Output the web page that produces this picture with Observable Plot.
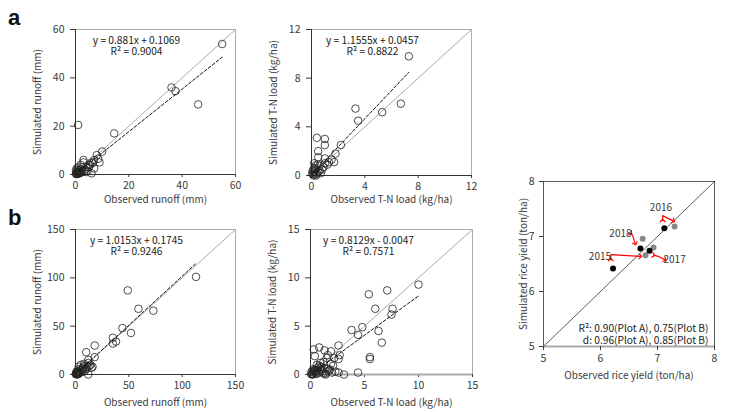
<!DOCTYPE html>
<html><head><meta charset="utf-8">
<script src="https://cdn.jsdelivr.net/npm/d3@7"></script>
<script src="https://cdn.jsdelivr.net/npm/@observablehq/plot@0.6"></script>
<style>
body{margin:0;background:#fff;}
#wrap{position:relative;width:736px;height:412px;overflow:hidden;}
.lab{position:absolute;font-weight:bold;font-size:22px;font-family:"Liberation Sans",Arial,sans-serif;color:#111;line-height:1;}
</style></head><body><div id="wrap"><div class="lab" style="left:8px;top:7px">a</div><div class="lab" style="left:8px;top:207px">b</div></div>
<script>
// ---- Panel a-1: runoff (calibration)
const obsA1 = [55,37.5,36,46,14.5,1,10,8,9,7,7,6,6,5,5,4,4,3.5,3,3,2.5,2,2,1.5,1.5,1,1,1,0.8,0.5,0.5,0.3,0.2,0.2,4.5,8.5,2.5,0.7,1.2,3.2,6.5,2,0.4,1.8,5.5];
const simA1 = [54,34.5,36,29,17,20.5,9.5,8,5,6,2.5,0.5,5,4,3,3,1,2,6,5,3,4,2,1.5,0.5,3,2,1,0.8,1,0.2,0.5,0.2,1.5,1.5,6.5,1.5,0.3,0.4,1.2,4.8,0.8,2.5,1.0,4.0];
// ---- Panel a-2: T-N load (calibration)
const obsA2 = [7.3,6.7,5.3,3.3,3.5,2.2,1.8,1.7,1.0,1.0,0.4,0.5,0.5,1.0,1.0,1.5,0.6,0.3,0.2,0.1,0.3,0.5,0.8,0.2,0.1,0.4,0.7,1.2,0.2,0.3,0.15,0.05,0.6,0.9,0.35,0.25,1.3,0.45];
const simA2 = [9.8,5.9,5.2,5.5,4.5,2.5,1.8,1.1,3.0,2.5,3.1,2.0,1.5,1.4,1.0,1.3,0.8,0.5,0.3,0.1,0.1,0.3,0.5,0.6,0.4,0.2,0.2,0.9,1.0,0.8,0.0,0.2,0.4,0.7,0.0,0.6,1.1,0.9];
// ---- Panel b-1: runoff (validation)
const obsB1 = [113,49,59,73,44,52,35,35,38,18,10,18,12,14,11,8,5,12,3,6,4,2,1,2,3,7,10,9,15,12,1,3,0.5,1.5,2.5,4.5,5.5,6.5,8.5,0.8,1.2,2.2,3.5,0.3,13,16,7.5];
const simB1 = [101,87,68,66,48,43,38,32,34,30,23,18,15,10,8,11,10,0,8,5,4,2,1,0,3,7,6,4,7,12,3,1,0.5,1.5,1,2,3,6,9,0.2,2.5,0.8,5.5,0.8,9,8,3];
// ---- Panel b-2: T-N load (validation)
const obsB2 = [10,7.1,5.4,7.6,7.5,6.0,4.8,3.8,4.4,6.3,6.6,5.5,5.5,2.6,2.7,2.6,2.2,1.9,1.3,0.8,0.3,0.4,1.5,1.6,4.4,3.1,2.6,1.0,0.5,0.2,
  0.1,0.3,0.6,0.9,1.2,1.5,1.8,2.0,0.2,0.4,0.7,1.1,1.4,1.7,0.05,0.5,0.8,1.3,2.3,0.15,0.35,0.55,0.75,1.0,1.9,0.25,0.6,1.2,0.9,0.45,1.6,2.1,1.4];
const simB2 = [9.3,8.7,8.3,6.8,6.2,6.8,4.9,4.6,4.1,4.5,3.3,1.8,1.6,3.0,2.0,1.6,1.7,2.4,2.5,2.8,2.6,1.9,1.7,2.0,0.2,0.0,0.2,0.5,0.3,0.1,
  0.3,0.2,0.4,0.6,0.1,0.3,0.5,0.2,0.0,0.5,0.7,0.3,0.1,0.4,0.05,0.15,0.9,0.6,0.3,0.0,0.35,0.05,0.2,0.8,1.1,0.55,1.0,1.3,1.2,0.45,0.6,0.9,0.0];
// regression equations (slope, intercept, last observed x)
const fitSlope = [0.881, 1.1555, 1.0153, 0.8129];
const fitIntercept = [0.1069, 0.0457, 0.1745, -0.0047];
const fitXMax = [55, 7.3, 113, 10];
const eqTexts = ["y = 0.881x + 0.1069","y = 1.1555x + 0.0457","y = 1.0153x + 0.1745","y = 0.8129x - 0.0047"];
const r2Texts = ["R² = 0.9004","R² = 0.8822","R² = 0.9246","R² = 0.7571"];
const axisMax = [60, 12, 150, 15];
const tickValsA1 = [0,20,40,60], tickValsA2 = [0,4,8,12], tickValsB1 = [0,50,100,150], tickValsB2 = [0,5,10,15];
const xLabels = ["Observed runoff (mm)","Observed T-N load (kg/ha)","Observed runoff (mm)","Observed T-N load (kg/ha)"];
const yLabels = ["Simulated runoff (mm)","Simulated T-N load (kg/ha)","Simulated runoff (mm)","Simulated T-N load (kg/ha)"];
// ---- Panel c: rice yield
const yieldObsA = [6.22, 6.70, 6.86, 7.12];
const yieldSimA = [6.42, 6.78, 6.74, 7.15];
const yieldObsB = [6.79, 6.74, 6.93, 7.30];
const yieldSimB = [6.66, 6.96, 6.80, 7.18];
const yearLabels = ["2015","2016","2017","2018"];
const yearLabelX = [5.99, 7.06, 7.30, 6.35];
const yearLabelY = [6.64, 7.53, 6.58, 7.05];
const arrowYear = ["2015","2015","2015","2016","2016","2016","2017","2017","2017","2018","2018","2018"];
const arrowX = [6.18,6.18,6.70, 7.09,7.09,7.28, 6.93,7.01,7.13, 6.53,6.56,6.61];
const arrowY = [6.58,6.67,6.64, 7.29,7.38,7.28, 6.66,6.64,6.58, 7.06,7.03,6.87];
const statLines = ["R²: 0.90(Plot A), 0.75(Plot B)","d: 0.96(Plot A), 0.85(Plot B)"];
const yieldTicks = [5,6,7,8];

const FONT = '"Noto Sans CJK KR","Noto Sans",sans-serif';
const TXT = "#3a3a3a";
const wrap = document.getElementById("wrap");
function place(el, left, top){ el.style.position="absolute"; el.style.left=left+"px"; el.style.top=top+"px"; wrap.appendChild(el); }

function scatterPanel(i, obs, sim, ticks, g){
  const max = axisMax[i];
  const pts = obs.map((x,k)=>({x, y: sim[k]}));
  const fit = [{x:0,y:fitIntercept[i]},{x:fitXMax[i],y:fitSlope[i]*fitXMax[i]+fitIntercept[i]}];
  const one = [{x:0,y:0},{x:max,y:max}];
  const chart = Plot.plot({
    width:g.w, height:g.h, marginLeft:g.mL, marginRight:g.mR, marginTop:g.mT, marginBottom:g.mB,
    x:{domain:[0,max]}, y:{domain:[0,max]},
    style:{fontFamily:FONT,fontSize:"10px",color:TXT,background:"transparent",overflow:"visible"},
    marks:[
      Plot.frame({stroke:"#999",strokeWidth:0.8}),
      Plot.line(one,{x:"x",y:"y",stroke:"#aaa",strokeWidth:1}),
      Plot.axisX({ticks, tickSize:3, tickPadding:4, label:null, tickFormat:d=>d, fontSize:10.5}),
      Plot.axisY({ticks, tickSize:5, tickPadding:6, label:null, tickFormat:d=>d, fontSize:10.5}),
      Plot.ruleX([0],{stroke:"#333",strokeWidth:1}),
      Plot.ruleY([0],{stroke:g.bottom||"#333",strokeWidth:g.bottomW||1}),
      Plot.dot(pts,{x:"x",y:"y",r:3.8,stroke:"#222",strokeWidth:0.8}),
      Plot.line(fit,{x:"x",y:"y",stroke:"#111",strokeDasharray:"3,2",strokeWidth:1}),
      Plot.text([eqTexts[i] + "\n" + r2Texts[i]],{frameAnchor:"top",dx:g.eqDx,dy:7,lineAnchor:"top",lineHeight:1.05,text:d=>d,fill:"#222",fontSize:10.2}),
      Plot.text([xLabels[i]],{frameAnchor:"bottom",dy:g.xlDy,lineAnchor:"middle",textAnchor:"middle",text:d=>d,fill:TXT}),
      Plot.text([yLabels[i]],{frameAnchor:"left",dx:-38,rotate:-90,textAnchor:"middle",lineAnchor:"middle",text:d=>d,fill:TXT})
    ]
  });
  place(chart, g.left, g.top);
}

scatterPanel(0, obsA1, simA1, tickValsA1, {left:0, top:0, w:240, h:206, mL:75, mR:5, mT:29, mB:32, eqDx:-19, xlDy:25});
scatterPanel(1, obsA2, simA2, tickValsA2, {left:240, top:0, w:240, h:206, mL:71, mR:9, mT:29, mB:31, eqDx:-19, xlDy:24});
scatterPanel(2, obsB1, simB1, tickValsB1, {left:0, top:200, w:240, h:212, mL:75, mR:5, mT:29, mB:38, eqDx:-19, xlDy:28});
scatterPanel(3, obsB2, simB2, tickValsB2, {left:240, top:200, w:240, h:212, mL:70, mR:8, mT:29, mB:38, eqDx:-23, xlDy:28, bottom:"#aaa", bottomW:2});

// ---- Panel c
const dotsA = yieldObsA.map((x,k)=>({x, y:yieldSimA[k]}));
const dotsB = yieldObsB.map((x,k)=>({x, y:yieldSimB[k]}));
const arrows = arrowYear.map((yr,k)=>({yr, x:arrowX[k], y:arrowY[k]}));
const labelsC = yearLabels.map((t,k)=>({t, x:yearLabelX[k], y:yearLabelY[k]}));
const chartC = Plot.plot({
  width:256, height:252, marginLeft:63, marginRight:22, marginTop:21, marginBottom:66,
  x:{domain:[5,8]}, y:{domain:[5,8]},
  style:{fontFamily:FONT,fontSize:"10px",color:TXT,background:"transparent",overflow:"visible"},
  marks:[
    Plot.frame({stroke:"#333",strokeWidth:0.8}),
    Plot.ruleY([5],{stroke:"#aaa",strokeWidth:2}),
    Plot.line([{x:5,y:5},{x:8,y:8}],{x:"x",y:"y",stroke:"#333",strokeWidth:0.8}),
    Plot.axisX({ticks:yieldTicks, tickSize:4, tickPadding:4, label:null, tickFormat:d=>d, fontSize:10.5}),
    Plot.axisY({ticks:yieldTicks, tickSize:4, tickPadding:5, label:null, tickFormat:d=>d, fontSize:10.5}),
    Plot.dot(dotsB,{x:"x",y:"y",r:3,fill:"#888",stroke:"none"}),
    Plot.dot(dotsA,{x:"x",y:"y",r:3,fill:"#000",stroke:"none"}),
    Plot.line(arrows,{x:"x",y:"y",z:"yr",stroke:"red",strokeWidth:1.2,markerStart:"arrow",markerEnd:"arrow"}),
    Plot.text(labelsC,{x:"x",y:"y",text:"t",fontSize:10,fill:TXT}),
    Plot.text([statLines.join("\n")],{frameAnchor:"bottom-right",dx:-6,dy:-3,lineAnchor:"bottom",lineHeight:1.15,text:d=>d,textAnchor:"end",fill:"#222",fontSize:10.2}),
    Plot.text(["Observed rice yield (ton/ha)"],{frameAnchor:"bottom",dy:29,lineAnchor:"middle",textAnchor:"middle",text:d=>d,fill:TXT}),
    Plot.text(["Simulated rice yield (ton/ha)"],{frameAnchor:"left",dx:-20,rotate:-90,textAnchor:"middle",lineAnchor:"middle",text:d=>d,fill:TXT})
  ]
});
place(chartC, 480, 160);
</script></body></html>
